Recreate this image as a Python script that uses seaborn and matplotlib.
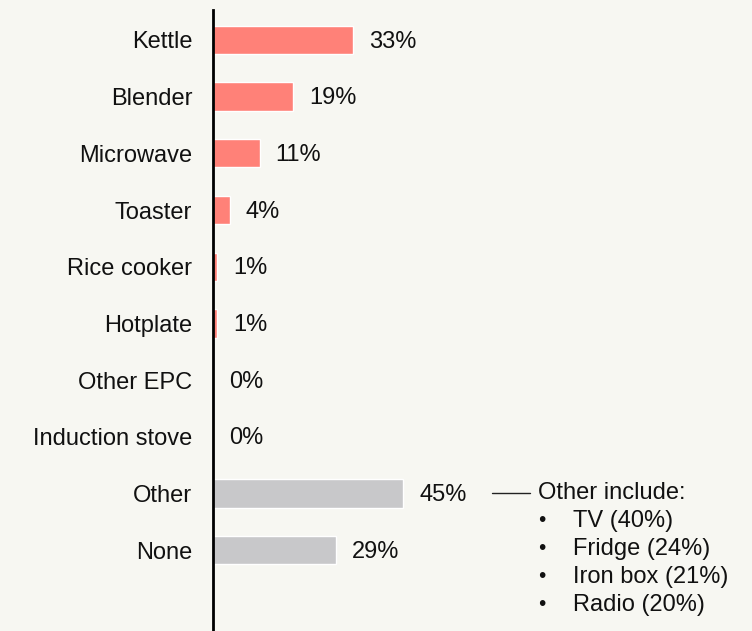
import matplotlib
matplotlib.use("Agg")
import matplotlib.pyplot as plt
import seaborn as sns
import pandas as pd

appliances = ["Kettle", "Blender", "Microwave", "Toaster", "Rice cooker", "Hotplate",
              "Other EPC", "Induction stove", "Other", "None"]
shares = [33, 19, 11, 4, 1, 1, 0, 0, 45, 29]
groups = ["epc"] * 8 + ["other"] * 2
other_items = ["TV (40%)", "Fridge (24%)", "Iron box (21%)", "Radio (20%)"]

BG = "#f7f7f2"
palette = {"epc": "#ff8178", "other": "#c8c8ca"}
FS = 17

sns.set_theme(style="white")
plt.rcParams["font.family"] = ["Liberation Sans", "DejaVu Sans"]

df = pd.DataFrame({"appliance": appliances, "share": shares, "group": groups})

fig = plt.figure(figsize=(7.52, 6.31), dpi=100, facecolor=BG)
ax = fig.add_axes([213 / 752, 0, 1 - 213 / 752, 1 - 10 / 631])
ax.set_facecolor(BG)

sns.barplot(data=df, y="appliance", x="share", hue="group", palette=palette,
            dodge=False, width=0.5, edgecolor="white", linewidth=1, saturation=1,
            legend=False, ax=ax, orient="h")

px_per_pct = 4.23
ax.set_xlim(0, (752 - 213) / px_per_pct)
ax.set_ylim(len(appliances) - 1 + 81 / 56.67, -30 / 56.67)

for s in ["top", "right", "bottom"]:
    ax.spines[s].set_visible(False)
ax.spines["left"].set_color("black")
ax.spines["left"].set_linewidth(2)
ax.set_xticks([])
ax.set_xlabel("")
ax.set_ylabel("")
ax.tick_params(axis="y", length=0, pad=15, labelsize=FS, labelcolor="#111111")

for i, v in enumerate(shares):
    ax.text(v + 3.8, i + 0.03, f"{v}%", va="center", ha="left", fontsize=FS, color="#111111")

# callout listing what "Other" covers
x0 = 492 / 752
y0 = 1 - 493 / 631
fig.add_artist(plt.Line2D([x0, 530 / 752], [y0, y0], color="#222222", linewidth=1))
fig.text(538 / 752, y0, "Other include:", va="center", ha="left", fontsize=FS, color="#111111")
for k, item in enumerate(other_items):
    yy = 1 - (521 + 28 * k) / 631
    fig.text(538 / 752, yy, "•", va="center", ha="left", fontsize=15, color="#111111")
    fig.text(573 / 752, yy, item, va="center", ha="left", fontsize=FS, color="#111111")

fig.savefig("out.png", dpi=100, facecolor=BG)
